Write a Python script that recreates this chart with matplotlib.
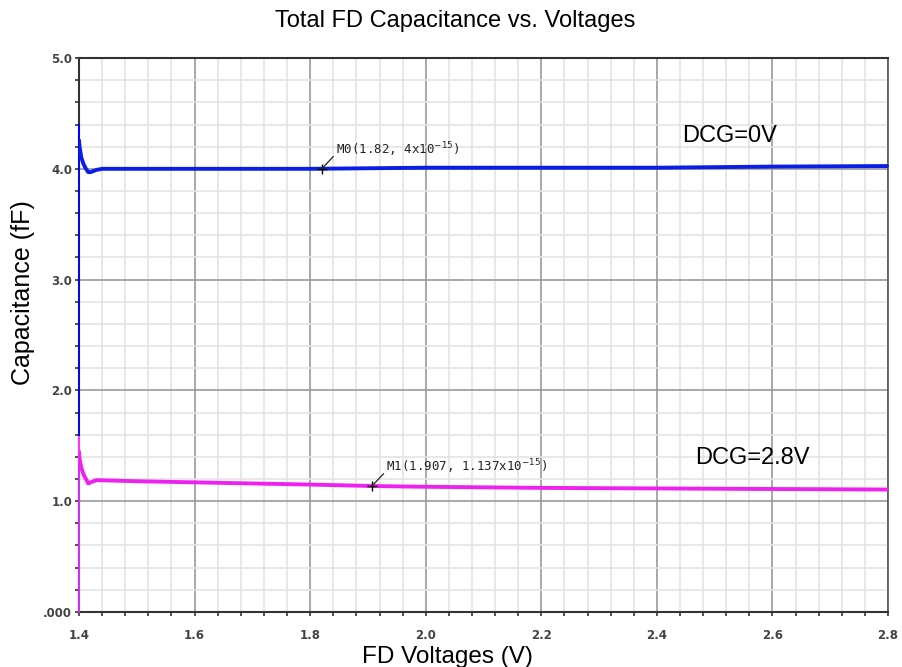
import matplotlib.pyplot as plt
from matplotlib.ticker import MultipleLocator

# blue curve, DCG=0V
blue_x = [1.4, 1.4, 1.4, 1.401, 1.404, 1.408, 1.412, 1.416, 1.42, 1.43, 1.44, 1.5, 1.6, 1.8, 2.0, 2.2, 2.4, 2.6, 2.8]
blue_y = [0.0, 4.4, 4.25, 4.2, 4.1, 4.04, 4.0, 3.97, 3.97, 3.99, 4.0, 4.0, 4.0, 4.0, 4.01, 4.01, 4.01, 4.02, 4.025]

# magenta curve, DCG=2.8V
pink_x = [1.4, 1.4, 1.4, 1.401, 1.404, 1.408, 1.412, 1.416, 1.42, 1.43, 1.5, 1.6, 1.7, 1.8, 1.907, 2.0, 2.2, 2.4, 2.6, 2.8]
pink_y = [0.0, 1.58, 1.44, 1.38, 1.3, 1.24, 1.2, 1.16, 1.17, 1.19, 1.18, 1.17, 1.16, 1.15, 1.137, 1.13, 1.12, 1.115, 1.11, 1.105]

markers = [("M0", 1.82, 4.0, "M0(1.82, 4x10$^{-15}$)"),
           ("M1", 1.907, 1.137, "M1(1.907, 1.137x10$^{-15}$)")]

xticks = [1.4, 1.6, 1.8, 2.0, 2.2, 2.4, 2.6, 2.8]
xticklabels = ["1.4", "1.6", "1.8", "2.0", "2.2", "2.4", "2.6", "2.8"]
yticks = [0, 1, 2, 3, 4, 5]
yticklabels = [".000", "1.0", "2.0", "3.0", "4.0", "5.0"]

fig = plt.figure(figsize=(9.02, 6.67), dpi=100)
ax = fig.add_axes([0.0876, 0.0825, 0.8969, 0.8305])

# thin vertical part at the start, thick trace after it
ax.plot(blue_x, blue_y, color="#0000ff", lw=1.2, zorder=3, clip_on=False)
ax.plot(blue_x[2:], blue_y[2:], color="#0a1ee6", lw=2.8, zorder=3)
ax.plot(pink_x, pink_y, color="#ff33ff", lw=1.2, zorder=4, clip_on=False)
ax.plot(pink_x[2:], pink_y[2:], color="#ee22ee", lw=2.8, zorder=4)

for name, mx, my, label in markers:
    ax.plot(mx, my, "+", color="k", ms=7, mew=1, zorder=5)
    ax.annotate(label, xy=(mx, my), xytext=(mx + 0.025, my + 0.13),
                fontsize=9, family="DejaVu Sans Mono", color="#222222",
                arrowprops=dict(arrowstyle="-", color="#222222", lw=0.9,
                                shrinkA=0, shrinkB=0, relpos=(0, 0.3)), zorder=6)

ax.text(2.443, 4.24, "DCG=0V", fontsize=17, family="Liberation Sans")
ax.text(2.466, 1.34, "DCG=2.8V", fontsize=17, family="Liberation Sans")

ax.set_xlim(1.4, 2.8)
ax.set_ylim(0, 5)
ax.set_xticks(xticks)
ax.set_xticklabels(xticklabels)
ax.set_yticks(yticks)
ax.set_yticklabels(yticklabels)
ax.xaxis.set_minor_locator(MultipleLocator(0.04))
ax.yaxis.set_minor_locator(MultipleLocator(0.2))

ax.grid(which="major", color="#9a9a9a", lw=1.2, zorder=1)
ax.grid(which="minor", color="#e4e4e4", lw=1.2, zorder=0)
ax.set_axisbelow(True)

for side in ["left", "bottom", "top"]:
    ax.spines[side].set_color("#333333")
    ax.spines[side].set_linewidth(1.5)
ax.spines["right"].set_color("#555555")
ax.spines["right"].set_linewidth(1.2)

ax.tick_params(which="both", direction="out", length=3, width=1.2, color="#333333",
               labelsize=8.5, labelcolor="#444444", pad=2)
ax.tick_params(axis="x", pad=9)
for lab in ax.get_xticklabels() + ax.get_yticklabels():
    lab.set_fontweight("bold")

ax.set_xlabel("FD Voltages (V)", fontsize=17.5, family="Liberation Sans")
ax.set_ylabel("Capacitance (fF)", fontsize=18, family="Liberation Sans")
ax.xaxis.set_label_coords(0.456, -0.062)
ax.yaxis.set_label_coords(-0.055, 0.576)
fig.suptitle("Total FD Capacitance vs. Voltages", fontsize=17, family="Liberation Sans",
             x=0.505, y=0.985)

fig.savefig("out.png", dpi=100)
